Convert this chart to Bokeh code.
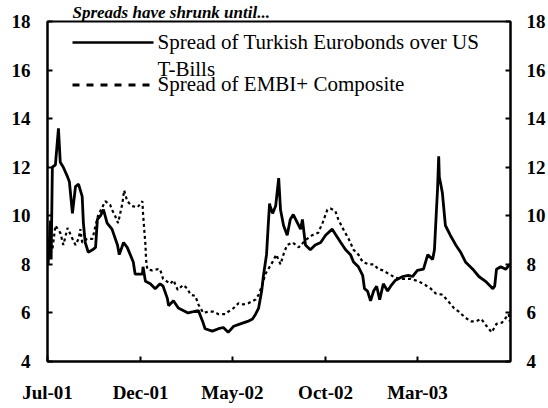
import pandas as pd
from bokeh.plotting import figure
from bokeh.models import (LinearAxis, FixedTicker, DatetimeTickFormatter, Range1d,
                          Label, Arrow)
from bokeh.embed import file_html
from bokeh.resources import INLINE

title_text = "Spreads have shrunk until..."
label_turkish_1 = "Spread of Turkish Eurobonds over US"
label_turkish_2 = "T-Bills"
label_embi = "Spread of EMBI+ Composite"

x_tick_dates = ["2001-07-01", "2001-12-01", "2002-05-01", "2002-10-01", "2003-03-01"]
y_ticks = [4, 6, 8, 10, 12, 14, 16, 18]

turkish_dates = [
    "2001-07-02", "2001-07-06", "2001-07-07", "2001-07-09", "2001-07-14", "2001-07-19",
    "2001-07-22", "2001-07-27", "2001-08-03", "2001-08-06", "2001-08-11", "2001-08-16",
    "2001-08-21", "2001-08-27", "2001-08-29", "2001-09-01", "2001-09-06", "2001-09-13",
    "2001-09-18", "2001-09-21", "2001-09-26", "2001-10-01", "2001-10-07", "2001-10-15",
    "2001-10-24", "2001-10-27", "2001-11-03", "2001-11-09", "2001-11-14", "2001-11-19",
    "2001-11-22", "2001-12-04", "2001-12-05", "2001-12-09", "2001-12-17", "2001-12-25",
    "2002-01-02", "2002-01-07", "2002-01-14", "2002-01-16", "2002-01-24", "2002-02-01",
    "2002-02-09", "2002-02-17", "2002-03-06", "2002-03-13", "2002-03-17", "2002-03-29",
    "2002-04-08", "2002-04-16", "2002-04-24", "2002-05-03", "2002-05-14", "2002-05-26",
    "2002-06-03", "2002-06-08", "2002-06-13", "2002-06-18", "2002-06-21", "2002-06-26",
    "2002-06-29", "2002-07-01", "2002-07-02", "2002-07-06", "2002-07-11", "2002-07-16",
    "2002-07-19", "2002-07-24", "2002-07-30", "2002-08-04", "2002-08-09", "2002-08-16",
    "2002-08-21", "2002-08-24", "2002-08-29", "2002-09-06", "2002-09-14", "2002-09-23",
    "2002-10-01", "2002-10-12", "2002-10-17", "2002-10-26", "2002-11-03", "2002-11-11",
    "2002-11-16", "2002-11-24", "2002-12-01", "2002-12-04", "2002-12-09", "2002-12-14",
    "2002-12-19", "2002-12-24", "2002-12-29", "2003-01-04", "2003-01-11", "2003-01-16",
    "2003-01-24", "2003-02-05", "2003-02-14", "2003-02-21", "2003-03-01", "2003-03-11",
    "2003-03-18", "2003-03-26", "2003-03-29", "2003-04-01", "2003-04-03", "2003-04-05",
    "2003-04-06", "2003-04-08", "2003-04-11", "2003-04-16", "2003-04-24", "2003-05-03",
    "2003-05-11", "2003-05-19", "2003-05-31", "2003-06-10", "2003-06-21", "2003-07-03",
    "2003-07-06", "2003-07-09", "2003-07-16", "2003-07-24", "2003-07-31",
]
turkish_values = [
    8.0, 9.8, 8.2, 12.0, 12.1, 13.6,
    12.2, 12.0, 11.6, 11.4, 10.1, 11.2,
    11.3, 10.8, 9.7, 8.9, 8.5, 8.6,
    8.7, 9.85, 10.0, 10.25, 9.7, 9.45,
    8.8, 8.4, 8.9, 8.7, 8.4, 8.1,
    7.6, 7.6, 7.9, 7.3, 7.2, 7.0,
    7.2, 7.1, 6.6, 6.3, 6.5, 6.2,
    6.1, 6.0, 6.1, 5.65, 5.35, 5.25,
    5.35, 5.4, 5.2, 5.45, 5.55, 5.65,
    5.75, 5.95, 6.2, 6.9, 7.55, 8.4,
    9.7, 10.5, 10.4, 10.1, 10.4, 11.55,
    10.25, 9.6, 9.2, 9.85, 10.05, 9.7,
    9.45, 9.85, 8.8, 8.6, 8.8, 8.9,
    9.2, 9.45, 9.25, 8.9, 8.6, 8.4,
    8.1, 7.9, 7.55, 7.0, 6.9, 6.5,
    6.9, 7.1, 6.55, 7.2, 6.9, 7.1,
    7.35, 7.5, 7.55, 7.5, 7.75, 7.8,
    8.4, 8.2, 8.6, 10.1, 11.05, 12.45,
    11.6, 11.35, 10.95, 9.6, 9.2, 8.8,
    8.5, 8.1, 7.8, 7.5, 7.3, 7.0,
    7.1, 7.8, 7.9, 7.8, 8.0,
]

embi_dates = [
    "2001-07-02", "2001-07-09", "2001-07-14", "2001-07-22", "2001-07-27", "2001-08-03",
    "2001-08-11", "2001-08-16", "2001-08-21", "2001-08-24", "2001-08-27", "2001-09-04",
    "2001-09-13", "2001-09-18", "2001-09-22", "2001-10-04", "2001-10-12", "2001-10-15",
    "2001-10-20", "2001-10-25", "2001-11-01", "2001-11-04", "2001-11-09", "2001-11-17",
    "2001-11-26", "2001-12-04", "2001-12-05", "2001-12-07", "2001-12-09", "2001-12-10",
    "2001-12-12", "2001-12-20", "2001-12-29", "2002-01-02", "2002-01-07", "2002-01-19",
    "2002-01-24", "2002-01-31", "2002-02-09", "2002-02-16", "2002-02-21", "2002-03-01",
    "2002-03-06", "2002-03-14", "2002-03-22", "2002-03-31", "2002-04-08", "2002-04-19",
    "2002-04-24", "2002-05-03", "2002-05-11", "2002-05-19", "2002-05-27", "2002-06-08",
    "2002-06-13", "2002-06-19", "2002-06-24", "2002-07-06", "2002-07-12", "2002-07-19",
    "2002-07-25", "2002-07-30", "2002-08-08", "2002-08-18", "2002-08-29", "2002-09-09",
    "2002-09-19", "2002-09-26", "2002-10-04", "2002-10-09", "2002-10-17", "2002-10-22",
    "2002-10-30", "2002-11-08", "2002-11-16", "2002-11-24", "2002-12-01", "2002-12-11",
    "2002-12-19", "2002-12-27", "2003-01-04", "2003-01-13", "2003-01-24", "2003-02-05",
    "2003-02-18", "2003-03-03", "2003-03-14", "2003-03-23", "2003-03-31", "2003-04-11",
    "2003-04-20", "2003-04-30", "2003-05-08", "2003-05-19", "2003-05-28", "2003-06-05",
    "2003-06-14", "2003-06-23", "2003-07-01", "2003-07-09", "2003-07-18", "2003-07-29",
    "2003-07-31",
]
embi_values = [
    9.0, 8.6, 9.6, 9.3, 8.8, 9.5,
    9.05, 8.8, 9.05, 9.45, 8.9, 9.05,
    9.05, 9.6, 10.0, 10.6, 10.45, 10.25,
    10.0, 9.7, 10.5, 11.05, 10.6, 10.4,
    10.35, 10.6, 10.1, 9.45, 8.8, 8.2,
    7.8, 7.75, 7.8, 7.8, 7.4, 7.2,
    7.35, 6.95, 7.15, 7.0, 6.75, 6.7,
    6.35, 6.0, 6.05, 6.05, 5.95, 5.95,
    6.05, 6.2, 6.4, 6.35, 6.4, 6.55,
    6.75, 7.15, 7.6, 8.1, 8.4, 8.0,
    8.5, 8.8, 8.9, 8.7, 9.0, 9.2,
    9.3, 9.7, 10.25, 10.3, 10.2, 9.85,
    9.45, 9.05, 8.6, 8.4, 8.1, 8.0,
    8.0, 7.8, 7.75, 7.6, 7.45, 7.4,
    7.4, 7.3, 7.15, 7.0, 6.8, 6.75,
    6.5, 6.2, 6.05, 5.8, 5.65, 5.65,
    5.75, 5.45, 5.2, 5.55, 5.6, 5.95,
    5.65,
]

FONT = "Liberation Serif"

turk_dt = pd.to_datetime(turkish_dates)
embi_dt = pd.to_datetime(embi_dates)
x_ticks_ms = [pd.Timestamp(d).value / 1e6 for d in x_tick_dates]

p = figure(width=548, height=408, x_axis_type="datetime",
           output_backend="svg", toolbar_location=None,
           x_range=Range1d(pd.Timestamp("2001-07-01"), pd.Timestamp("2003-08-01")),
           y_range=Range1d(4, 18),
           min_border_left=47, min_border_right=38,
           min_border_top=19, min_border_bottom=47)

p.title.text = title_text
p.title.text_font = FONT
p.title.text_font_style = "bold italic"
p.title.text_font_size = "17px"
p.title.text_color = "black"
p.title.align = "left"
p.title.offset = 25
p.title.standoff = 0

p.xgrid.visible = False
p.ygrid.visible = False
p.outline_line_color = "black"
p.outline_line_width = 2
p.background_fill_color = "white"
p.border_fill_color = "white"


def style_axis(ax, standoff):
    ax.axis_line_color = "black"
    ax.axis_line_width = 2
    ax.major_tick_in = 5
    ax.major_tick_out = 0
    ax.major_tick_line_width = 2
    ax.major_tick_line_color = "black"
    ax.minor_tick_line_color = None
    ax.major_label_text_font = FONT
    ax.major_label_text_font_style = "bold"
    ax.major_label_text_font_size = "19px"
    ax.major_label_text_color = "black"
    ax.major_label_standoff = standoff


xax = p.xaxis[0]
xax.ticker = FixedTicker(ticks=x_ticks_ms)
xax.formatter = DatetimeTickFormatter(days="%b-%y", months="%b-%y", years="%b-%y")
style_axis(xax, 20)

yax = p.yaxis[0]
yax.ticker = FixedTicker(ticks=y_ticks)
style_axis(yax, 17)

yax_r = LinearAxis(ticker=FixedTicker(ticks=y_ticks))
style_axis(yax_r, 16)
p.add_layout(yax_r, "right")

p.line(embi_dt, embi_values, line_color="black", line_width=2.2, line_dash="3 3")
p.line(turk_dt, turkish_values, line_color="black", line_width=2.8)

# legend (screen units, measured from the frame's bottom-left corner)
p.add_layout(Arrow(x_start=25, y_start=319, x_end=106, y_end=319,
                   start_units="screen", end_units="screen", end=None,
                   line_color="black", line_width=2.5))
p.add_layout(Arrow(x_start=25, y_start=276.5, x_end=108, y_end=276.5,
                   start_units="screen", end_units="screen", end=None,
                   line_color="black", line_width=3, line_dash="7 7"))

for txt, ty in [(label_turkish_1, 320), (label_turkish_2, 292.5), (label_embi, 277.5)]:
    p.add_layout(Label(x=110, y=ty, x_units="screen", y_units="screen", text=txt,
                       text_font=FONT, text_font_size="21px", text_baseline="middle",
                       text_color="black"))

open("out.html", "w").write(file_html(p, INLINE))
